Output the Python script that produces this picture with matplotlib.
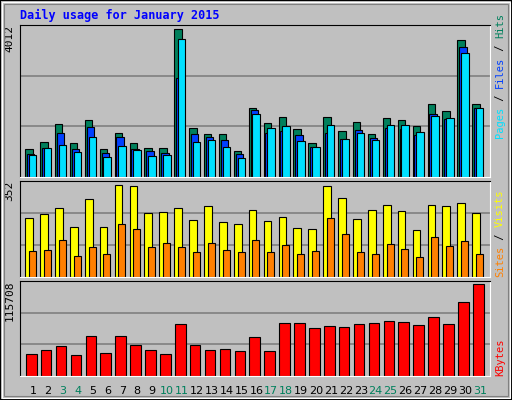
import numpy as np
import matplotlib
matplotlib.use('Agg')
from matplotlib import pyplot as plt
from matplotlib.patches import Rectangle

days = np.arange(1, 32)
hits = [772, 962, 1452, 935, 1561, 772, 1207, 935, 799, 799, 4012, 1343, 1180, 1180, 717, 1888,
        1480, 1643, 1316, 935, 1643, 1262, 1507, 1180, 1616, 1561, 1398, 1970, 1806, 3712, 1997]
files = [635, 800, 1207, 772, 1371, 663, 1098, 772, 717, 663, 2678, 1180, 1098, 1017, 635, 1834,
         1207, 1262, 1153, 826, 1207, 1044, 1289, 1071, 1343, 1316, 1153, 1725, 1588, 3522, 1888]
pages = [608, 799, 880, 690, 1098, 554, 853, 744, 581, 608, 3740, 962, 1017, 826, 526, 1725,
         1343, 1398, 989, 826, 1425, 1044, 1207, 1017, 1425, 1425, 1234, 1670, 1616, 3358, 1888]
visits = [226, 241, 264, 192, 299, 192, 352, 348, 245, 249, 264, 219, 272, 211, 203, 257,
          215, 230, 188, 184, 348, 302, 222, 257, 276, 253, 180, 276, 272, 283, 245]
sites = [100, 104, 142, 81, 116, 89, 203, 184, 116, 131, 116, 97, 131, 104, 97, 142,
         97, 123, 89, 100, 226, 165, 97, 89, 127, 108, 78, 154, 119, 139, 89]
kbytes = [28294, 33362, 38429, 27027, 51098, 29561, 51098, 39696, 33362, 28294, 66301, 39696,
          33362, 34629, 32095, 49831, 32095, 67568, 67568, 61234, 63767, 62500, 66301, 67568,
          70102, 68835, 65034, 75169, 66301, 94173, 115708]
weekend = [3, 4, 10, 11, 17, 18, 24, 25, 31]

GREEN = '#00805C'
BG = '#C0C0C0'
mono = 'DejaVu Sans Mono'

fig = plt.figure(figsize=(5.12, 4.0), dpi=100, facecolor=BG)
# outer 3D frame
fig.patches.append(Rectangle((0, 0), 1, 1, transform=fig.transFigure, fill=False,
                             edgecolor='black', linewidth=1.5))
fig.patches.append(Rectangle((0.004, 0.005), 0.992, 0.99, transform=fig.transFigure, fill=False,
                             edgecolor='white', linewidth=0.8))
fig.patches.append(Rectangle((0.008, 0.01), 0.984, 0.98, transform=fig.transFigure, fill=False,
                             edgecolor='#808080', linewidth=0.8))

def panel(rect, top):
    ax = fig.add_axes(rect)
    ax.set_facecolor(BG)
    ax.set_xlim(0.128, 31.67)
    ax.set_ylim(0, top)
    for y in (top / 3, top * 2 / 3):
        ax.axhline(y, color='#808080', linewidth=1.2, zorder=0)
    ax.set_xticks([])
    ax.set_yticks([])
    ax.spines['top'].set_color('black')
    ax.spines['left'].set_color('black')
    ax.spines['right'].set_color('white')
    ax.spines['bottom'].set_color('white')
    return ax

lw = 0.8
ax1 = panel([0.039, 0.5575, 0.918, 0.38], 4130)
ax1.bar(days - 0.52, hits, width=0.5, align='edge', color=GREEN, edgecolor='black', linewidth=lw)
ax1.bar(days - 0.40, files, width=0.5, align='edge', color='#0040FF', edgecolor='black', linewidth=lw)
ax1.bar(days - 0.27, pages, width=0.5, align='edge', color='#00E0FF', edgecolor='black', linewidth=lw)

ax2 = panel([0.039, 0.3075, 0.918, 0.24], 366)
ax2.bar(days - 0.52, visits, width=0.52, align='edge', color='#FFFF00', edgecolor='black', linewidth=lw)
ax2.bar(days - 0.27, sites, width=0.47, align='edge', color='#FF8000', edgecolor='black', linewidth=lw)

ax3 = panel([0.039, 0.06, 0.918, 0.238], 120353)
ax3.bar(days - 0.47, kbytes, width=0.71, align='edge', color='#FF0000', edgecolor='black', linewidth=lw)
for d in days:
    ax3.text(d, -0.1, str(d), transform=ax3.get_xaxis_transform(), ha='center', va='top',
             fontsize=8, color=GREEN if d in weekend else 'black')

fig.text(20 / 512, 1 - 15 / 400, 'Daily usage for January 2015', color='#0000FF',
         family=mono, weight='bold', fontsize=8.5, va='center')

# max labels
for ax, lab in ((ax1, '4012'), (ax2, '352'), (ax3, '115708')):
    ax.text(-0.012, 1.0, lab, transform=ax.transAxes, rotation=90, ha='right', va='top',
            family=mono, fontsize=8)

# right side legends, placed in pixels (bottom y, going up)
fs = 7.5
step = 0.6 * fs * 100 / 72  # px per char
def legend(start_px, parts):
    y = start_px
    for s, c in parts:
        fig.text(500 / 512, 1 - y / 400, s, rotation=90, ha='center', va='bottom',
                 family=mono, fontsize=fs, color=c)
        y -= len(s) * step

legend(138, [('Pages', '#00E0FF'), (' / ', 'black'), ('Files', '#0040FF'), (' / ', 'black'), ('Hits', GREEN)])
legend(277, [('Sites', '#FF8000'), (' / ', 'black'), ('Visits', '#FFFF00')])
legend(376, [('KBytes', '#FF0000')])

fig.savefig('out.png', dpi=100, facecolor=BG)
